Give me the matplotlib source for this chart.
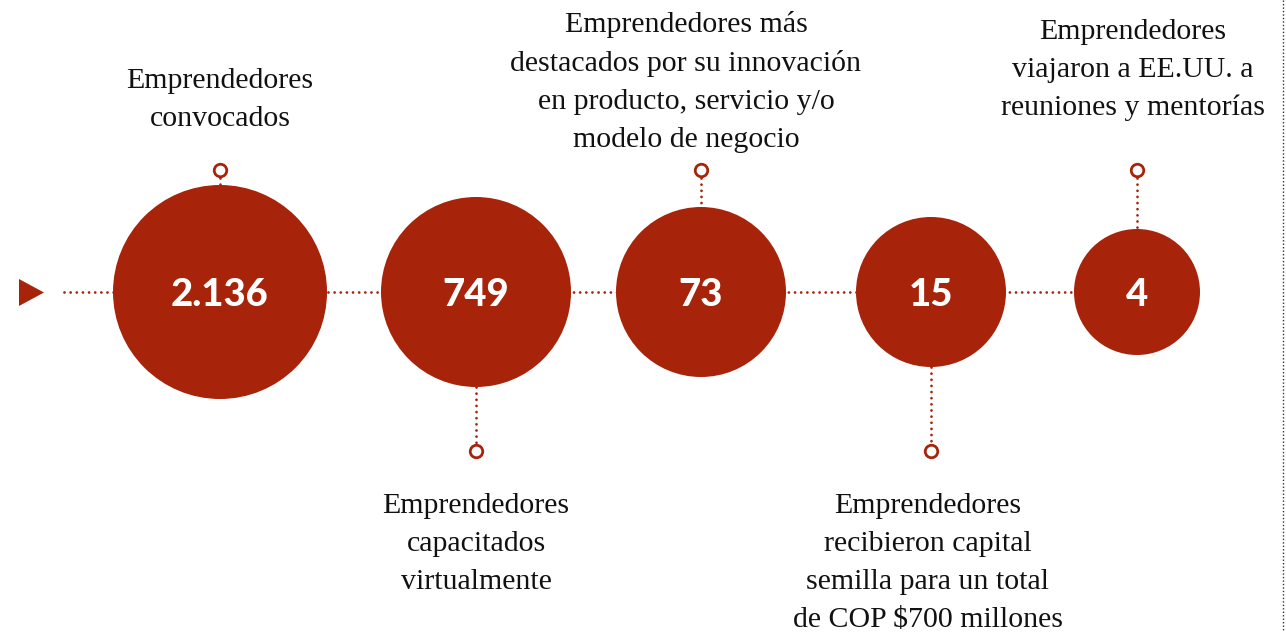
import matplotlib.pyplot as plt
from matplotlib.patches import Circle, Polygon

# data
values = [2136, 749, 73, 15, 4]
labels = ["Emprendedores\nconvocados",
          "Emprendedores\ncapacitados\nvirtualmente",
          "Emprendedores más\ndestacados por su innovación\nen producto, servicio y/o\nmodelo de negocio",
          "Emprendedores\nrecibieron capital\nsemilla para un total\nde COP $700 millones",
          "Emprendedores\nviajaron a EE.UU. a\nreuniones y mentorías"]

# layout (pixels)
cx = [220, 476, 701, 931, 1137]
radius = [107, 95, 85, 75, 63]
above = [True, False, True, False, True]
text_x = [220, 476, 686, 928, 1133]
text_y = [100, 544, 82, 563, 70]
cy = 292
red = "#A7240B"

fig = plt.figure(figsize=(12.86, 6.32), dpi=100)
ax = fig.add_axes([0, 0, 1, 1])
ax.set_xlim(0, 1286)
ax.set_ylim(632, 0)
ax.axis('off')

dots = dict(color=red, lw=2.0, linestyle=(0, (0.01, 2.2)), dash_capstyle='round')

# main dotted axis
ax.plot([64, 1075], [cy, cy], zorder=1, **dots)
ax.add_patch(Polygon([[19, 279], [19, 306], [44, 292.5]], closed=True, color=red, lw=0))

def fmt(v):
    return f"{v:,}".replace(",", ".")

for i, v in enumerate(values):
    ax.add_patch(Circle((cx[i], cy), radius[i], color=red, lw=0, zorder=2))
    ax.text(cx[i], cy + 3, fmt(v), color="white", fontsize=27.5, fontweight='black',
            family="Lato", ha='center', va='center', zorder=3)
    if above[i]:
        my = 170
        ax.plot([cx[i], cx[i]], [my + 8, cy - radius[i]], zorder=1, **dots)
    else:
        my = 451
        ax.plot([cx[i], cx[i]], [cy + radius[i], my - 8], zorder=1, **dots)
    ax.plot(cx[i], my, 'o', ms=9, mfc='white', mec=red, mew=2, zorder=3)
    ax.text(text_x[i], text_y[i], labels[i], fontsize=21.5, family="Liberation Serif",
            color="#111111", ha='center', va='center', linespacing=1.6)

# right dotted border
ax.plot([1283, 1283], [0, 632], color="#333333", lw=1, linestyle=(0, (1, 1.5)))

plt.savefig("out.png", dpi=100)
